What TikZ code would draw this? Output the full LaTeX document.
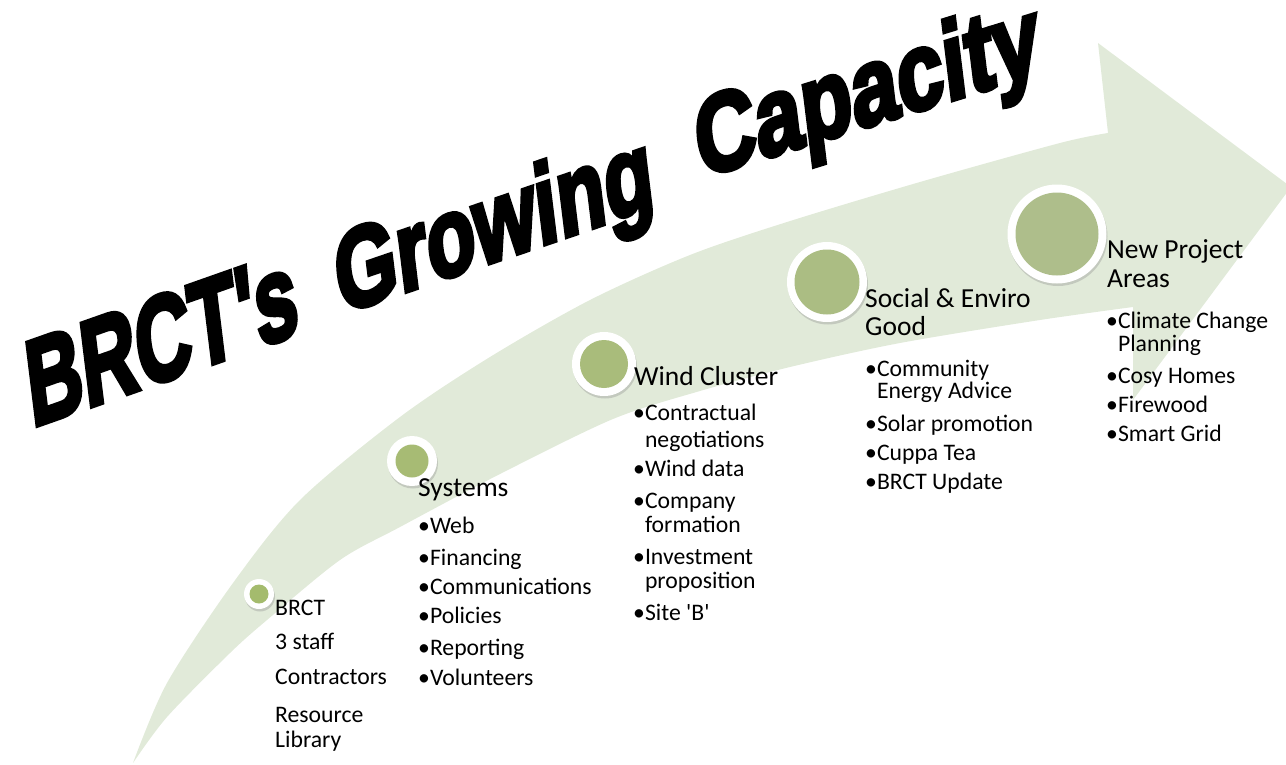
\documentclass[tikz,border=0pt]{standalone}
\usepackage{fontspec}
\setmainfont{Carlito}
\newfontfamily\titlefont[FakeBold=4.5]{Liberation Sans Bold}
\usetikzlibrary{shadows}

\definecolor{bandgreen}{HTML}{E1EAD9}
\definecolor{dotA}{HTML}{A4BB6D}
\definecolor{dotB}{HTML}{A7BB74}
\definecolor{dotC}{HTML}{A9BC7B}
\definecolor{dotD}{HTML}{ABBD83}
\definecolor{dotE}{HTML}{AEBE8B}

\begin{document}
\begin{tikzpicture}[x=1pt, y=-1pt,
    ring/.style={
        circle, fill=white, inner sep=0pt,
        drop shadow={shadow xshift=1pt, shadow yshift=-2.5pt, opacity=0.3}
    },
    core/.style={circle, fill=#1, inner sep=0pt},
    head/.style={anchor=base west, inner sep=0pt, font=\fontsize{27.5}{28}\selectfont},
    item/.style={anchor=base west, inner sep=0pt, font=\fontsize{23.7}{24}\selectfont},
    title/.style={anchor=base west, inner sep=0pt, rotate=7}
]
\clip (0,0) rectangle (1286,764);

% --- Growth arrow ---
\fill[bandgreen]
    plot[smooth] coordinates {(133,763) (167,683) (233,583) (300,500) (400,417)
        (490,357) (590,300) (690,255) (787,222) (920,182) (1060,143) (1108,133)}
    -- (1098,43) -- (1291,187) -- (1133,400) -- (1133,307)
    -- plot[smooth] coordinates {(1133,307) (1040,320) (900,343) (790,367)
        (700,391) (613,419) (500,474) (400,527) (340,560) (267,620) (230,653)
        (167,717) (133,763)}
    -- cycle;

% --- Title ---
\node[title, yslant=0.22, xscale=0.65, font=\titlefont\fontsize{120}{124}\selectfont]
    (title1) at (32,427) {BRCT\textquotesingle s};
\node[title, yslant=0.21, xscale=0.72, font=\titlefont\fontsize{112}{116}\selectfont]
    (title2) at (340,314) {Growing};
\node[title, yslant=0.18, xscale=0.77, font=\titlefont\fontsize{110}{114}\selectfont]
    (title3) at (700,178) {Capacity};

% --- Stage dots ---
\node[ring, minimum size=30] (brct-dot) at (259,594) {};
\node[core=dotA, minimum size=19] (brct-core) at (brct-dot) {};
\node[ring, minimum size=50] (sys-dot) at (412,461) {};
\node[core=dotB, minimum size=33] (sys-core) at (sys-dot) {};
\node[ring, minimum size=64] (wind-dot) at (604,364) {};
\node[core=dotC, minimum size=48] (wind-core) at (wind-dot) {};
\node[ring, minimum size=80] (soc-dot) at (827,282) {};
\node[core=dotD, minimum size=65] (soc-core) at (soc-dot) {};
\node[ring, minimum size=99] (new-dot) at (1057,234) {};
\node[core=dotE, minimum size=83] (new-core) at (new-dot) {};

% --- BRCT ---
\node[item] (brct-1) at (275,615) {BRCT};
\node[item] (brct-2) at (275,649) {3 staff};
\node[item] (brct-3) at (275,684) {Contractors};
\node[item] (brct-4) at (275,722) {Resource};
\node[item] (brct-5) at (275,747) {Library};

% --- Systems ---
\node[head] (sys-head) at (418,496) {Systems};
\node[item] (sys-1) at (418,533) {•Web};
\node[item] (sys-2) at (418,565) {•Financing};
\node[item] (sys-3) at (418,594) {•Communications};
\node[item] (sys-4) at (418,623) {•Policies};
\node[item] (sys-5) at (418,655) {•Reporting};
\node[item] (sys-6) at (418,685) {•Volunteers};

% --- Wind Cluster ---
\node[head] (wind-head) at (634,385) {Wind Cluster};
\node[item] (wind-1) at (633,420) {•Contractual};
\node[item] (wind-1b) at (633,447) {\phantom{•}negotiations};
\node[item] (wind-2) at (633,476) {•Wind data};
\node[item] (wind-3) at (633,508) {•Company};
\node[item] (wind-3b) at (633,532) {\phantom{•}formation};
\node[item] (wind-4) at (633,564) {•Investment};
\node[item] (wind-4b) at (633,588) {\phantom{•}proposition};
\node[item] (wind-5) at (633,620) {•Site \textquotesingle B\textquotesingle};

% --- Social & Enviro Good ---
\node[head] (soc-head) at (865,307) {Social \& Enviro};
\node[head] (soc-head2) at (865,335) {Good};
\node[item] (soc-1) at (865,376) {•Community};
\node[item] (soc-1b) at (865,398) {\phantom{•}Energy Advice};
\node[item] (soc-2) at (865,431) {•Solar promotion};
\node[item] (soc-3) at (865,460) {•Cuppa Tea};
\node[item] (soc-4) at (865,489) {•BRCT Update};

% --- New Project Areas ---
\node[head] (new-head) at (1107,258) {New Project};
\node[head] (new-head2) at (1107,287) {Areas};
\node[item] (new-1) at (1106,328) {•Climate Change};
\node[item] (new-1b) at (1106,351) {\phantom{•}Planning};
\node[item] (new-2) at (1106,383) {•Cosy Homes};
\node[item] (new-3) at (1106,412) {•Firewood};
\node[item] (new-4) at (1106,441) {•Smart Grid};

\end{tikzpicture}
\end{document}
